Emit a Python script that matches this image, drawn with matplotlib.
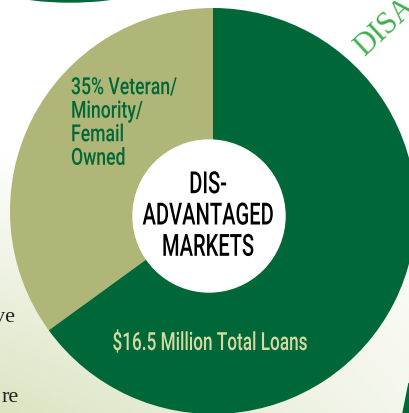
import numpy as np
import matplotlib
matplotlib.use("Agg")
import matplotlib.pyplot as plt
from matplotlib.patches import Circle, Ellipse, Polygon
from matplotlib.patheffects import AbstractPathEffect
from matplotlib.transforms import Affine2D

# ---- data ----
categories = ["Veteran/Minority/Femail Owned", "Other"]
shares = [35, 65]
colors = ["#afb678", "#006838"]
seg_label = "35% Veteran/\nMinority/\nFemail\nOwned"
total_label = "$16.5 Million Total Loans"
center_label = "DIS-\nADVANTAGED\nMARKETS"

W, H = 409, 413
fig = plt.figure(figsize=(W / 100, H / 100), dpi=100)
ax = fig.add_axes([0, 0, 1, 1])


def P(y):
    """pixel row (from top) -> data y"""
    return H - y


class Squeeze(AbstractPathEffect):
    """Draw text glyphs horizontally condensed about x = cx (display px)."""

    def __init__(self, sx, cx):
        super().__init__()
        self.sx, self.cx = sx, cx

    def draw_path(self, renderer, gc, tpath, affine, rgbFace=None):
        t = affine + Affine2D().translate(-self.cx, 0).scale(self.sx, 1).translate(self.cx, 0)
        renderer.draw_path(gc, tpath, t, rgbFace)


# background gradient (white top/right -> pale green bottom-left)
py, px = np.mgrid[0:H, 0:W]
t = np.clip((py - 150) / 260.0, 0, 1) * (1 - 0.7 * px / W)
c0 = np.array([1.0, 1.0, 1.0])
c1 = np.array([0xdc, 0xe4, 0xc2]) / 255.0
img = c0[None, None, :] * (1 - t[..., None]) + c1[None, None, :] * t[..., None]
ax.imshow(img, extent=[0, W, 0, H], origin="upper", zorder=0, aspect="auto")

# decorative fragments
ax.add_patch(Ellipse((70, P(-28)), 200, 60, color="#006838", zorder=1))
ax.add_patch(Polygon([[409, P(413)], [409, P(383)], [403, P(413)]], closed=True,
                     color="#006838", zorder=1))
ax.text(364, P(57), "DISA", rotation=43, rotation_mode="anchor", fontsize=22,
        color="#3db04b", family="Liberation Serif", ha="left", va="baseline",
        zorder=2)
ax.text(15, P(322), "ve", fontsize=16, family="Liberation Serif",
        color="#222222", ha="right", va="baseline", zorder=2)
ax.text(19, P(402), "re", fontsize=16, family="Liberation Serif",
        color="#222222", ha="right", va="baseline", zorder=2)

# pie
ax.pie(shares, colors=colors, startangle=90, counterclock=True,
       center=(213, P(211)), radius=203, frame=True,
       wedgeprops=dict(linewidth=0))

# center hole
ax.add_patch(Circle((209, P(216)), 76, color="white", zorder=5))

t_center = ax.text(208, P(216), center_label, ha="center", va="center",
                   fontsize=22, family="Roboto", fontweight="medium",
                   color="black", linespacing=1.1, zorder=6)
t_seg = ax.text(71, P(123), seg_label, ha="left", va="center", fontsize=17,
                family="Roboto", fontweight="medium", color="#006838",
                linespacing=1.03, zorder=6)
t_total = ax.text(210, P(343), total_label, ha="center", va="center",
                  fontsize=18, family="Roboto", fontweight="medium",
                  color="#d6d9a2", zorder=6)

ax.set_xlim(0, W)
ax.set_ylim(0, H)
ax.set_aspect("auto")
ax.axis("off")

# condense the labels to the reference widths
fig.canvas.draw()
r = fig.canvas.get_renderer()
for txt, target, cx in [(t_center, 131, 208), (t_seg, 106, 71), (t_total, 195, 210)]:
    w = txt.get_window_extent(r).width
    txt.set_path_effects([Squeeze(target / w, cx)])

fig.savefig("out.png", dpi=100)
